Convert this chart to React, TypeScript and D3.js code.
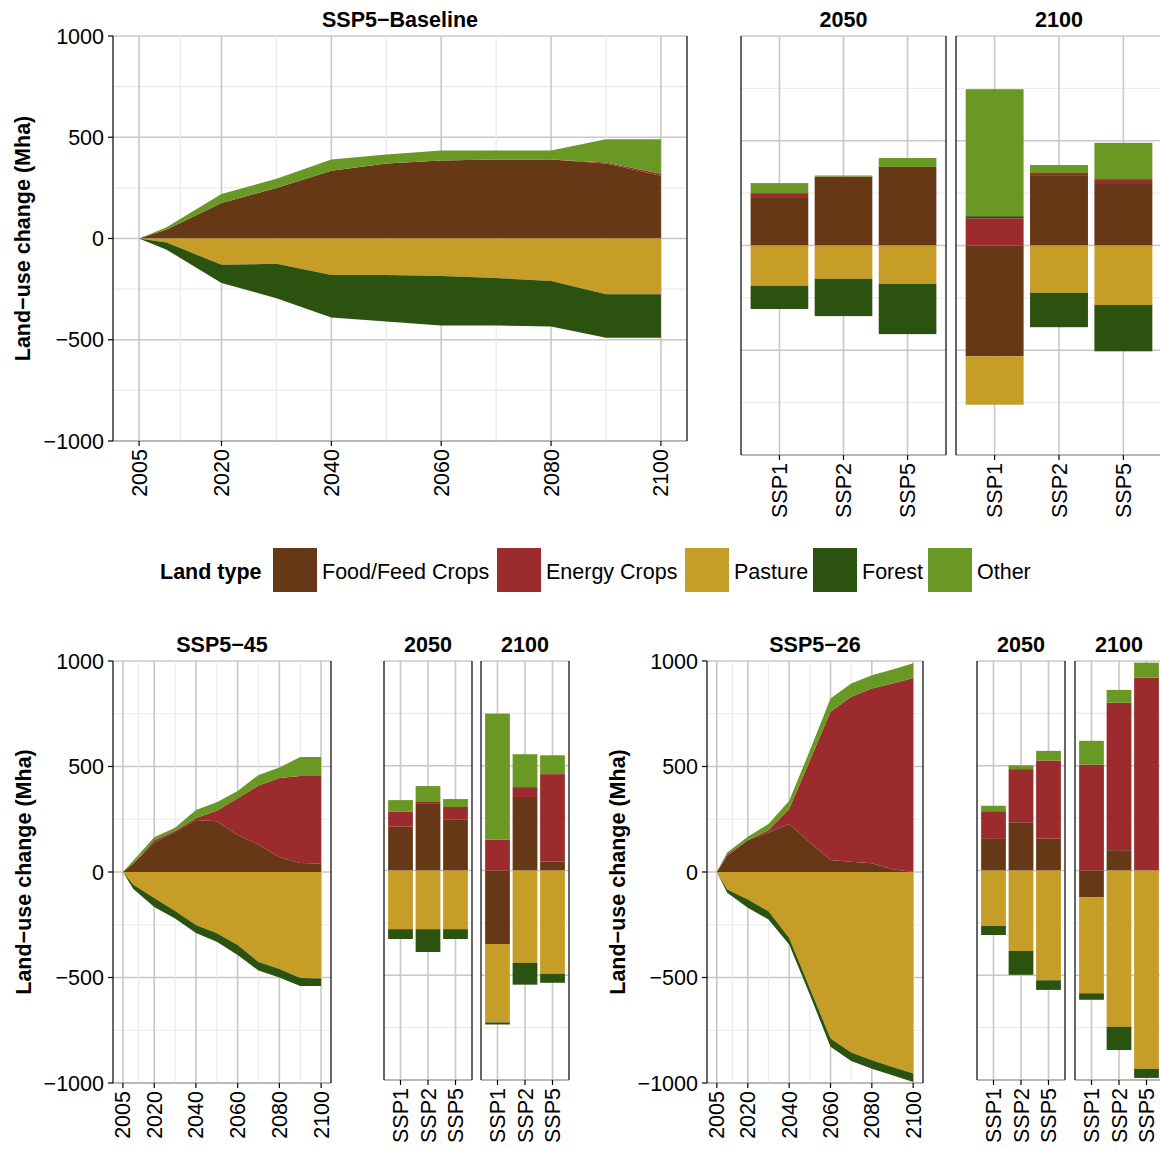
import * as d3 from 'd3';

const years = [2005, 2010, 2020, 2030, 2040, 2050, 2060, 2070, 2080, 2090, 2100];
const landTypes = ['Food/Feed Crops', 'Energy Crops', 'Pasture', 'Forest', 'Other'];
const landColors = ['#663816', '#9c2b2e', '#c59d27', '#2c520f', '#6a9825'];
const ssps = ['SSP1', 'SSP2', 'SSP5'];
const yTicks = [-1000, -500, 0, 500, 1000];
const yMinor = [-750, -250, 250, 750];
const yearTicks = [2005, 2020, 2040, 2060, 2080, 2100];

// SSP5-Baseline, per year: food, energy, pasture, forest, other
const baseFood = [0, 45, 175, 250, 335, 370, 385, 390, 390, 370, 310];
const baseEnergy = [0, 0, 0, 0, 0, 0, 0, 0, 0, 5, 10];
const basePasture = [0, -20, -130, -125, -180, -180, -185, -195, -210, -275, -275];
const baseForest = [0, -35, -90, -170, -210, -230, -245, -235, -225, -215, -215];
const baseOther = [0, 10, 45, 45, 55, 45, 50, 45, 45, 115, 170];

const s45Food = [0, 40, 140, 190, 246, 240, 175, 130, 70, 43, 40];
const s45Energy = [0, 0, 10, 5, 10, 50, 175, 280, 375, 412, 415];
const s45Pasture = [0, -60, -123, -185, -251, -290, -346, -427, -460, -502, -505];
const s45Forest = [0, -20, -43, -35, -38, -40, -47, -40, -40, -38, -35];
const s45Other = [0, 15, 15, 15, 38, 40, 34, 50, 50, 90, 90];

const s26Food = [0, 76, 150, 187, 227, 140, 57, 49, 41, 13, 0];
const s26Energy = [0, 8, 2, 11, 71, 388, 702, 781, 829, 880, 920];
const s26Pasture = [0, -83, -130, -186, -313, -551, -789, -855, -892, -924, -955];
const s26Forest = [0, -15, -40, -39, -31, -31, -39, -41, -40, -39, -40];
const s26Other = [0, 8, 15, 29, 40, 48, 63, 63, 63, 67, 69];

// bars, per SSP1/SSP2/SSP5
const b50Base = { food: [231, 327, 375], energy: [19, 2, 0], pasture: [-192, -159, -183], forest: [-111, -178, -240], other: [48, 5, 43] };
const b00Base = { food: [-529, 332, 298], energy: [130, 14, 19], pasture: [-231, -226, -284], forest: [10, -164, -221], other: [606, 38, 173] };
const b50s45 = { food: [209, 318, 242], energy: [71, 9, 61], pasture: [-280, -280, -280], forest: [-47, -109, -47], other: [56, 76, 38] };
const b00s45 = { food: [-351, 351, 43], energy: [147, 47, 417], pasture: [-374, -441, -493], forest: [-10, -104, -43], other: [602, 157, 90] };
const b50s26 = { food: [151, 230, 152], energy: [132, 254, 373], pasture: [-265, -384, -524], forest: [-43, -114, -46], other: [26, 18, 46] };
const b00s26 = { food: [-127, 97, 0], energy: [505, 704, 920], pasture: [-459, -746, -947], forest: [-31, -111, -43], other: [114, 61, 72] };

const FONT = '"Liberation Sans", Arial, Helvetica, sans-serif';
const FS = 21.5;

type Series = number[][]; // [type][index]

function stackValues(series: Series, n: number) {
  const out: { lo: number; hi: number }[][] = series.map(() => []);
  for (let i = 0; i < n; i++) {
    let pos = 0, neg = 0;
    series.forEach((s, k) => {
      const v = s[i];
      if (v >= 0) { out[k][i] = { lo: pos, hi: pos + v }; pos += v; }
      else { out[k][i] = { lo: neg + v, hi: neg }; neg += v; }
    });
  }
  return out;
}

function Grid({ x0, x1, y }: { x0: number; x1: number; y: d3.ScaleLinear<number, number> }) {
  return (
    <g>
      {yMinor.map(t => <line key={'m' + t} x1={x0} x2={x1} y1={y(t)} y2={y(t)} stroke="#ebebeb" strokeWidth={1.2} />)}
      {yTicks.map(t => <line key={'M' + t} x1={x0} x2={x1} y1={y(t)} y2={y(t)} stroke="#c8c8c8" strokeWidth={1.6} />)}
    </g>
  );
}

function AreaPanel({ x0, x1, y0, y1, title, series, showTitleY }: any) {
  const x = d3.scaleLinear().domain([2000.25, 2104.75]).range([x0, x1]);
  const y = d3.scaleLinear().domain([-1000, 1000]).range([y1, y0]);
  const st = stackValues(series, years.length);
  const area = d3.area<{ lo: number; hi: number }>()
    .x((_, i) => x(years[i])).y0(d => y(d.lo)).y1(d => y(d.hi));
  const minorX = yearTicks.slice(1).map((t, i) => (t + yearTicks[i]) / 2);
  return (
    <g fontFamily={FONT}>
      <Grid x0={x0} x1={x1} y={y} />
      {minorX.map(t => <line key={'mx' + t} x1={x(t)} x2={x(t)} y1={y0} y2={y1} stroke="#ebebeb" strokeWidth={1.2} />)}
      {yearTicks.map(t => <line key={'Mx' + t} x1={x(t)} x2={x(t)} y1={y0} y2={y1} stroke="#c8c8c8" strokeWidth={1.6} />)}
      {st.map((s, k) => <path key={k} d={area(s) || ''} fill={landColors[k]} />)}
      <line x1={x0} x2={x1} y1={y1} y2={y1} stroke="#999" strokeWidth={1} />
      <line x1={x0} x2={x0} y1={y0} y2={y1} stroke="#000" strokeWidth={1.2} />
      <line x1={x1} x2={x1} y1={y0} y2={y1} stroke="#000" strokeWidth={1.2} />
      {yTicks.map(t => (
        <g key={'yt' + t}>
          <line x1={x0 - 5} x2={x0} y1={y(t)} y2={y(t)} stroke="#000" strokeWidth={1.2} />
          <text x={x0 - 9} y={y(t)} dy="0.35em" textAnchor="end" fontSize={FS}>{t < 0 ? '\u2212' + Math.abs(t) : t}</text>
        </g>
      ))}
      {yearTicks.map(t => (
        <g key={'xt' + t}>
          <line x1={x(t)} x2={x(t)} y1={y1} y2={y1 + 5} stroke="#000" strokeWidth={1.2} />
          <text transform={`translate(${x(t)},${y1 + 8}) rotate(-90)`} dy="0.35em" textAnchor="end" fontSize={FS}>{t}</text>
        </g>
      ))}
      <text x={(x0 + x1) / 2} y={y0 - 9} textAnchor="middle" fontSize={FS} fontWeight="bold">{title}</text>
      <text transform={`translate(${showTitleY},${(y0 + y1) / 2}) rotate(-90)`} textAnchor="middle" fontSize={FS} fontWeight="bold">Land{'\u2212'}use change (Mha)</text>
    </g>
  );
}

function BarFacet({ x0, x1, y0, y1, title, bars }: any) {
  const x = d3.scaleBand().domain(ssps).range([x0, x1]).paddingInner(0.1).paddingOuter(0.15);
  const y = d3.scaleLinear().domain([-1000, 1000]).range([y1, y0]);
  const series = [bars.food, bars.energy, bars.pasture, bars.forest, bars.other];
  const st = stackValues(series, ssps.length);
  return (
    <g fontFamily={FONT}>
      <Grid x0={x0} x1={x1} y={y} />
      {ssps.map(s => {
        const cx = (x(s) || 0) + x.bandwidth() / 2;
        return <line key={'g' + s} x1={cx} x2={cx} y1={y0} y2={y1} stroke="#c8c8c8" strokeWidth={1.6} />;
      })}
      {st.map((s, k) => s.map((d, i) => (
        <rect key={k + '-' + i} x={x(ssps[i])} width={x.bandwidth()} y={y(d.hi)} height={Math.max(0, y(d.lo) - y(d.hi))} fill={landColors[k]} />
      )))}
      <line x1={x0} x2={x1} y1={y1} y2={y1} stroke="#999" strokeWidth={1} />
      <line x1={x0} x2={x0} y1={y0} y2={y1} stroke="#000" strokeWidth={1.2} />
      <line x1={x1} x2={x1} y1={y0} y2={y1} stroke="#000" strokeWidth={1.2} />
      {ssps.map(s => {
        const cx = (x(s) || 0) + x.bandwidth() / 2;
        return (
          <g key={'t' + s}>
            <line x1={cx} x2={cx} y1={y1} y2={y1 + 5} stroke="#000" strokeWidth={1.2} />
            <text transform={`translate(${cx},${y1 + 8}) rotate(-90)`} dy="0.35em" textAnchor="end" fontSize={FS}>{s}</text>
          </g>
        );
      })}
      <text x={(x0 + x1) / 2} y={y0 - 9} textAnchor="middle" fontSize={FS} fontWeight="bold">{title}</text>
    </g>
  );
}

const legendX = [273, 497, 685, 813, 928];

export default function App() {
  return (
    <svg width={1160} height={1150} style={{ display: 'block', position: 'absolute', left: 0, top: 0, background: '#fff' }}>
      <AreaPanel x0={113} x1={687} y0={36} y1={441} title={'SSP5\u2212Baseline'} showTitleY={30}
        series={[baseFood, baseEnergy, basePasture, baseForest, baseOther]} />
      <BarFacet x0={741} x1={946} y0={36} y1={455} title="2050" bars={b50Base} />
      <BarFacet x0={956} x1={1162} y0={36} y1={455} title="2100" bars={b00Base} />

      <g fontFamily={FONT}>
        <text x={160} y={571} dy="0.35em" fontSize={FS} fontWeight="bold">Land type</text>
        {landTypes.map((l, i) => (
          <g key={l}>
            <rect x={legendX[i]} y={548} width={44} height={44} fill={landColors[i]} />
            <text x={legendX[i] + 49} y={571} dy="0.35em" fontSize={FS}>{l}</text>
          </g>
        ))}
      </g>

      <AreaPanel x0={113} x1={331} y0={661} y1={1083} title={'SSP5\u221245'} showTitleY={31}
        series={[s45Food, s45Energy, s45Pasture, s45Forest, s45Other]} />
      <BarFacet x0={384} x1={472} y0={661} y1={1080} title="2050" bars={b50s45} />
      <BarFacet x0={481} x1={569} y0={661} y1={1080} title="2100" bars={b00s45} />

      <AreaPanel x0={707} x1={923} y0={661} y1={1083} title={'SSP5\u221226'} showTitleY={625}
        series={[s26Food, s26Energy, s26Pasture, s26Forest, s26Other]} />
      <BarFacet x0={977} x1={1065} y0={661} y1={1080} title="2050" bars={b50s26} />
      <BarFacet x0={1075} x1={1163} y0={661} y1={1080} title="2100" bars={b00s26} />
    </svg>
  );
}
